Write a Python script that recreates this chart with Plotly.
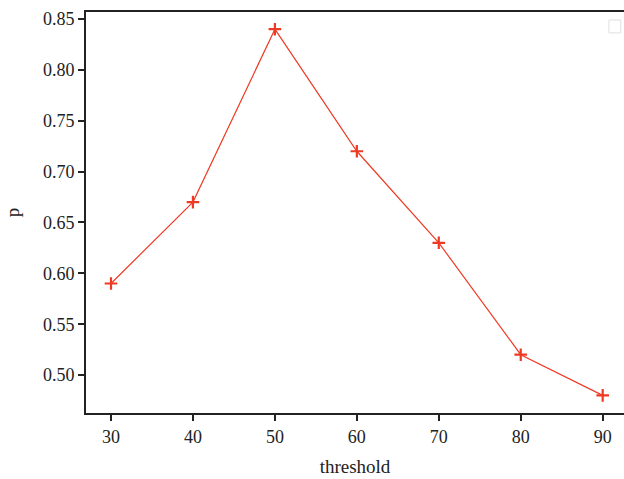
import plotly.graph_objects as go

threshold = [30, 40, 50, 60, 70, 80, 90]
p_values = [0.59, 0.67, 0.84, 0.72, 0.63, 0.52, 0.48]
x_ticks = [30, 40, 50, 60, 70, 80, 90]
y_ticks = [0.50, 0.55, 0.60, 0.65, 0.70, 0.75, 0.80, 0.85]

color = "#ee3a24"
font = "Liberation Serif"

fig = go.Figure()
fig.add_trace(go.Scatter(
    x=threshold, y=p_values, mode="lines+markers",
    line=dict(color=color, width=1.2),
    marker=dict(symbol="cross-thin", size=9, line=dict(color=color, width=2.2)),
    showlegend=False,
))

fig.update_layout(
    width=624, height=479,
    margin=dict(l=86, r=0, t=12, b=66),
    plot_bgcolor="white", paper_bgcolor="white",
    font=dict(family=font, size=18, color="#222"),
    shapes=[dict(type="rect", xref="paper", yref="paper",
                 x0=0.972, x1=0.994, y0=0.948, y1=0.98,
                 line=dict(color="#e0e0e0", width=1), fillcolor="white")],
)
fig.update_xaxes(
    range=[26.95, 92.6], tickvals=x_ticks, ticktext=[str(v) for v in x_ticks],
    showline=True, linecolor="#222", linewidth=2, mirror=True,
    ticks="outside", ticklen=6, tickwidth=2, tickcolor="#222",
    showgrid=False, zeroline=False,
    title=dict(text="threshold", font=dict(size=19), standoff=14),
)
fig.update_yaxes(
    range=[0.4627, 0.8569], tickvals=y_ticks, ticktext=[f"{v:.2f}" for v in y_ticks],
    showline=True, linecolor="#222", linewidth=2, mirror=False,
    ticks="outside", ticklen=6, tickwidth=2, tickcolor="#222",
    showgrid=False, zeroline=False,
    title=dict(text="p", font=dict(size=19), standoff=18),
)

fig.write_html("out.html")
